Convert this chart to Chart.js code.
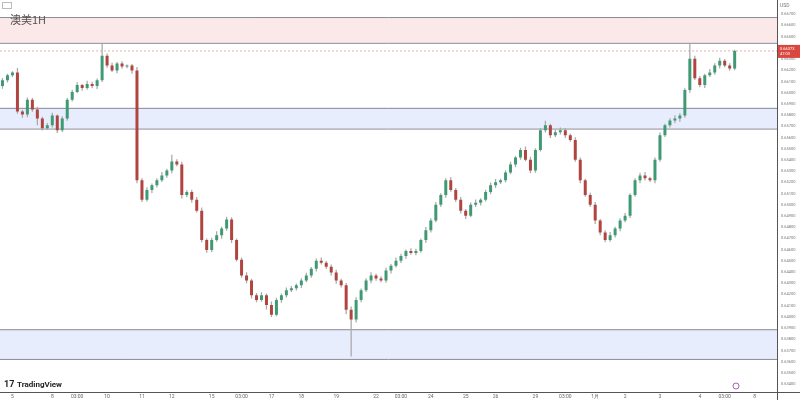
<!DOCTYPE html>
<html><head><meta charset="utf-8">
<script src="https://cdn.jsdelivr.net/npm/chart.js@4/dist/chart.umd.min.js"></script>
<style>html,body{margin:0;padding:0;background:#fff}#w{width:800px;height:400px}</style>
</head><body><div id="w"><canvas id="c"></canvas></div>
<script>
const closes=[
0.66111,0.66155,0.66181,0.65832,0.65806,0.65937,0.65850,0.65770,0.65682,0.65709,
0.65796,0.65665,0.65770,0.65937,0.66007,0.66068,0.66042,0.66077,0.66059,0.66111,
0.66330,0.66242,0.66199,0.66260,0.66234,0.66242,0.66199,0.65218,0.65044,0.65131,
0.65175,0.65218,0.65262,0.65306,0.65386,0.65359,0.65087,0.65114,0.65044,0.64947,
0.64685,0.64597,0.64685,0.64728,0.64789,0.64869,0.64685,0.64510,0.64369,0.64325,
0.64194,0.64151,0.64194,0.64107,0.64020,0.64151,0.64194,0.64238,0.64256,0.64282,
0.64325,0.64369,0.64430,0.64500,0.64483,0.64448,0.64395,0.64325,0.64282,0.64063,
0.63976,0.64151,0.64238,0.64325,0.64369,0.64343,0.64325,0.64413,0.64456,0.64500,
0.64544,0.64587,0.64570,0.64587,0.64685,0.64772,0.64859,0.65000,0.65087,0.65218,
0.65131,0.65044,0.64947,0.64903,0.65000,0.65018,0.65044,0.65114,0.65175,0.65201,
0.65218,0.65288,0.65359,0.65421,0.65490,0.65403,0.65306,0.65490,0.65665,0.65709,
0.65621,0.65647,0.65665,0.65621,0.65578,0.65403,0.65218,0.65087,0.65000,0.64859,
0.64754,0.64685,0.64728,0.64789,0.64859,0.64903,0.65087,0.65218,0.65262,0.65236,
0.65218,0.65403,0.65621,0.65709,0.65752,0.65770,0.65796,0.66024,0.66304,0.66129,
0.66068,0.66155,0.66181,0.66242,0.66286,0.66242,0.66216,0.66373];
const firstOpen=0.66060;
// wick extensions in pips (0.00001) above / below the body, one per candle
const wickUp=[
20,15,10,40,15,20,15,25,15,20,
25,10,20,15,20,25,10,30,20,15,
110,20,25,15,20,10,15,30,20,25,
15,20,30,15,60,20,25,15,20,25,
30,15,20,35,15,25,20,15,20,30,
15,20,25,15,30,20,15,25,20,15,
20,25,15,20,30,15,20,25,15,20,
30,25,15,20,30,15,20,25,15,30,
20,15,25,20,15,30,20,25,15,20,
30,20,25,15,20,30,15,20,25,30,
15,20,25,15,20,30,25,15,20,40,
15,20,25,20,15,25,20,15,20,25,
15,20,30,15,20,25,15,20,25,30,
15,20,25,15,20,30,20,15,140,25,
20,15,30,20,25,15,20,10];
const wickDn=[
25,20,15,20,30,25,20,60,20,15,
20,25,15,20,15,10,25,15,20,25,
15,20,15,25,20,15,30,25,20,15,
25,20,15,20,25,15,30,20,25,15,
20,25,20,15,30,20,25,15,20,25,
30,20,15,40,20,15,25,20,15,20,
25,15,20,25,15,20,25,30,20,40,
330,25,20,15,25,20,15,20,25,15,
20,25,15,20,15,25,20,15,20,25,
15,20,25,30,15,20,25,15,20,25,
15,20,15,25,20,15,25,20,15,20,
25,15,20,25,15,20,25,15,20,30,
25,20,15,20,25,15,20,15,25,20,
15,25,20,15,20,25,30,20,25,15,
20,25,15,20,25,15,20,15];
const slotCount=156;
const tickAt={2:"5",10:"8",15:"03:00",21:"10",28:"11",34:"12",42:"15",48:"03:00",54:"17",60:"18",67:"19",75:"22",80:"03:00",86:"24",93:"25",99:"26",107:"29",113:"03:00",119:"1月",125:"2",132:"3",140:"4",145:"03:00",151:"8"};
const zones=[{top:0.66675,bot:0.66445,fill:"rgba(248,215,215,0.55)"},{top:0.65865,bot:0.65680,fill:"rgba(215,225,250,0.6)"},{top:0.63890,bot:0.63625,fill:"rgba(215,225,250,0.6)"}];
const lastPrice=0.66373;

const labels=[],bodies=[],wicks=[],colors=[];
for(let i=0;i<slotCount;i++){
  labels.push(tickAt[i]||"");
  if(i<closes.length){
    const o=i?closes[i-1]:firstOpen,c=closes[i];
    bodies.push([o,c]);
    wicks.push([Math.min(o,c)-(wickDn[i]||0)*1e-5,Math.max(o,c)+(wickUp[i]||0)*1e-5]);
    colors.push(c>=o?"#3f9a74":"#b0443e");
  }else{bodies.push(null);wicks.push(null);colors.push("#000");}
}
const deco={id:"deco",
 beforeDatasetsDraw(ch){const{ctx,chartArea:a,scales:{y}}=ch;ctx.save();
  zones.forEach(z=>{const t=y.getPixelForValue(z.top),b=y.getPixelForValue(z.bot);ctx.fillStyle=z.fill;ctx.fillRect(a.left,t,a.width,b-t);ctx.strokeStyle="#8a8a95";ctx.lineWidth=1;ctx.beginPath();ctx.moveTo(a.left,t+.5);ctx.lineTo(a.right,t+.5);ctx.moveTo(a.left,b+.5);ctx.lineTo(a.right,b+.5);ctx.stroke();});
  const p=y.getPixelForValue(lastPrice);ctx.strokeStyle="#e8b0b0";ctx.setLineDash([2,2]);ctx.beginPath();ctx.moveTo(a.left,p);ctx.lineTo(a.right,p);ctx.stroke();ctx.setLineDash([]);
  ctx.restore();},
 afterDraw(ch){const{ctx,chartArea:a,scales:{y}}=ch;ctx.save();
  ctx.strokeStyle="#555";ctx.lineWidth=1;ctx.beginPath();ctx.moveTo(0,a.bottom+.5);ctx.lineTo(800,a.bottom+.5);ctx.moveTo(a.right+.5,0);ctx.lineTo(a.right+.5,400);ctx.stroke();
  const p=y.getPixelForValue(lastPrice);ctx.fillStyle="#d9473e";ctx.fillRect(a.right+1,p-6,22,13);
  ctx.fillStyle="#fff";ctx.font="4px Roboto";ctx.textAlign="left";ctx.fillText(lastPrice.toFixed(5),a.right+3,p-1);ctx.fillText("47:03",a.right+3,p+4);
  ctx.fillStyle="#555";ctx.font="11px 'Noto Sans CJK SC'";ctx.fillText("澳美1H",10,24);
  ctx.fillStyle="#222";ctx.font="bold 8px Roboto";ctx.fillText("TradingView",17,387);ctx.font="bold 9px Roboto";ctx.fillText("17",4,387);
  ctx.font="5px Roboto";ctx.fillStyle="#777";ctx.fillText("USD",a.right+3,7);
  ctx.strokeStyle="#bbb";ctx.strokeRect(2.5,2.5,9,6);
  ctx.strokeStyle="#b060c0";ctx.beginPath();ctx.arc(736,386,3,0,7);ctx.stroke();
  ctx.restore();}};
new Chart(document.getElementById("c"),{type:"bar",
 data:{labels,datasets:[
  {data:wicks,backgroundColor:"#a8a8a8",barPercentage:0.25,categoryPercentage:1,grouped:false,order:2},
  {data:bodies,backgroundColor:colors,barPercentage:0.6,categoryPercentage:1,grouped:false,order:1,minBarLength:1}]},
 options:{responsive:true,maintainAspectRatio:false,animation:false,events:[],
  layout:{padding:0},
  plugins:{legend:{display:false},tooltip:{enabled:false}},
  scales:{
   x:{grid:{display:false,drawTicks:false},border:{display:false},ticks:{autoSkip:false,maxRotation:0,font:{size:5,family:"Roboto"},color:"#666",padding:2},afterFit(s){s.height=8;}},
   y:{position:"right",min:0.6333,max:0.6677,grid:{display:false,drawTicks:false},border:{display:false},
      afterBuildTicks(s){s.ticks=s.ticks.filter(t=>Math.abs(t.value*1000-Math.round(t.value*1000))<1e-6);},
      ticks:{stepSize:0.001,font:{size:4,family:"Roboto"},color:"#777",padding:4,callback:v=>v.toFixed(5)},afterFit(s){s.width=23;}}}},
 plugins:[deco]});
</script></body></html>
